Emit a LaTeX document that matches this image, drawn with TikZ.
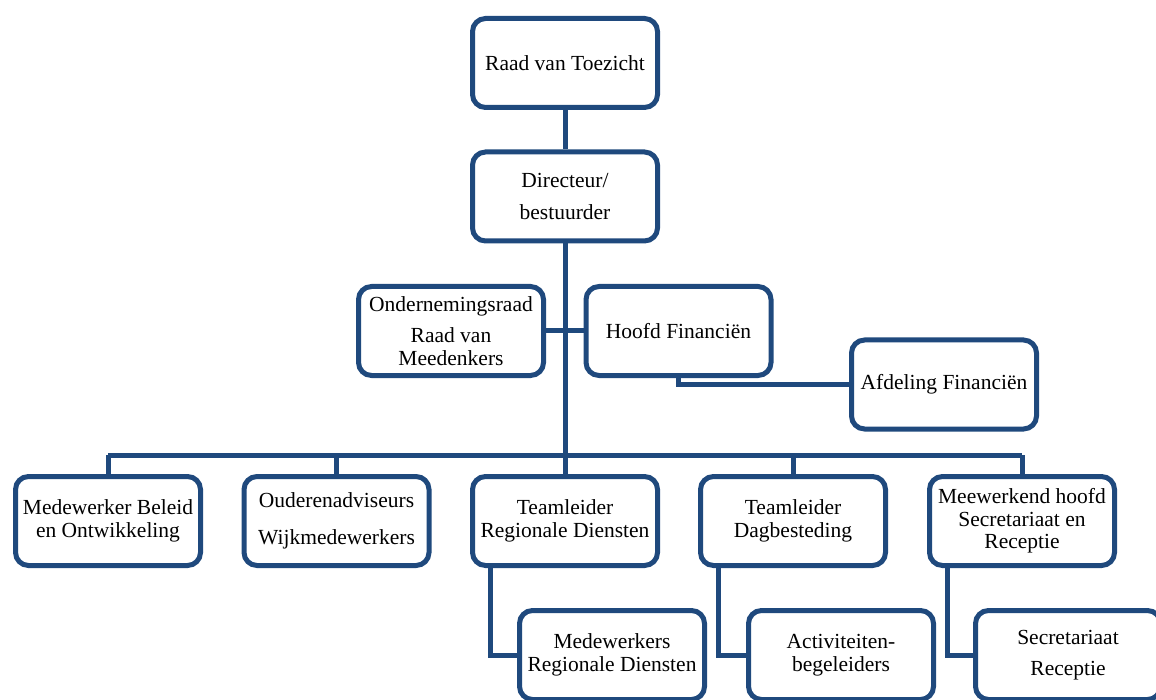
\documentclass[tikz,border=0pt]{standalone}
\usepackage{fontspec}
\setmainfont{Liberation Serif}
\definecolor{dblue}{HTML}{1F497D}
\begin{document}
\begin{tikzpicture}[x=1pt,y=1pt,
  box/.style={draw=dblue, line width=5pt, rounded corners=13pt, fill=white,
    minimum width=185pt, minimum height=89pt, align=center, inner sep=2pt,
    font=\fontsize{21.5}{22.5}\selectfont},
  conn/.style={draw=dblue, line width=5pt}]
\useasboundingbox (0,0) rectangle (1156,-700);
\clip (0,0) rectangle (1156,-700);
% nodes
\node[box] (rvt) at (565,-63) {Raad van Toezicht};
\node[box] (dir) at (565,-196.5) {Directeur/\\[9pt]bestuurder};
\node[box] (ond) at (451,-331) {Ondernemingsraad\\[9pt]Raad van\\Meedenkers};
\node[box] (hfd) at (678.5,-331) {Hoofd Financiën};
\node[box] (afd) at (944,-384.5) {Afdeling Financiën};
\node[box] (b1) at (108,-521) {Medewerker Beleid\\en Ontwikkeling};
\node[box] (b2) at (336.5,-521) {Ouderenadviseurs\\[14pt]Wijkmedewerkers};
\node[box] (b3) at (565,-521) {Teamleider\\Regionale Diensten};
\node[box] (b4) at (793,-521) {Teamleider\\Dagbesteding};
\node[box] (b5) at (1022,-521) {Meewerkend hoofd\\Secretariaat en\\Receptie};
\node[box] (s3) at (612,-655) {Medewerkers\\Regionale Diensten};
\node[box] (s4) at (841,-655) {Activiteiten-\\begeleiders};
\node[box] (s5) at (1068,-655) {Secretariaat\\[8pt]Receptie};
\coordinate (busL) at (108,-455);
\coordinate (busR) at (1022,-455);
% connectors
\draw[conn] (rvt.south) -- (dir.north);
\draw[conn] (dir.south) -- (dir.south |- busL);
\draw[conn] (ond.east) -- (hfd.west);
\draw[conn] (hfd.south) |- (afd.west);
\draw[conn] (busL) -- (busR);
\draw[conn] (busL) -- (b1.north);
\draw[conn] (b2.north |- busL) -- (b2.north);
\draw[conn] (b3.north |- busL) -- (b3.north);
\draw[conn] (b4.north |- busL) -- (b4.north);
\draw[conn] (busR) -- (b5.north);
\draw[conn] ([xshift=20pt]b3.south west) |- (s3.west);
\draw[conn] ([xshift=20pt]b4.south west) |- (s4.west);
\draw[conn] ([xshift=20pt]b5.south west) |- (s5.west);
\end{tikzpicture}
\end{document}
